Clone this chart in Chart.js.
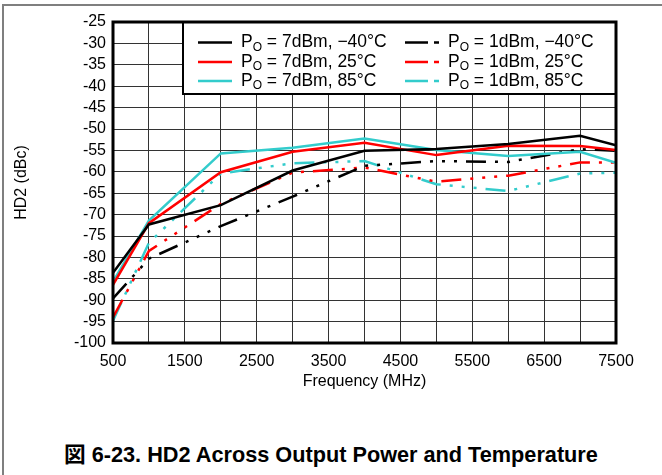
<!DOCTYPE html>
<html>
<head>
<meta charset="utf-8">
<script src="https://cdn.jsdelivr.net/npm/chart.js@4.4.1/dist/chart.umd.min.js"></script>
<style>
  html, body { margin: 0; padding: 0; background: #fff; }
  .figure { position: relative; width: 662px; height: 475px; overflow: hidden; }
  .frame {
    position: absolute; left: 2px; top: 4px; width: 700px; height: 500px;
    border-top: 2px solid #7f7f7f; border-left: 2px solid #7f7f7f;
  }
  .chart-box { position: absolute; left: 0; top: 0; width: 662px; height: 400px; }
  .caption {
    position: absolute; left: 64px; top: 437px; white-space: nowrap;
    font: bold 21.7px "Liberation Sans", Arial, "Noto Sans CJK JP", sans-serif; color: #000;
  }
</style>
</head>
<body>
<div class="figure">
  <div class="frame"></div>
  <div class="chart-box"><canvas id="hd2Chart"></canvas></div>
  <div class="caption">図 6-23. HD2 Across Output Power and Temperature</div>
</div>
<script>
  // frequency points (MHz)
  const frequencies = [500, 1000, 2000, 3000, 4000, 5000, 6000, 7000, 7500];

  // HD2 (dBc)
  const hd2_7dBm_m40 = [-83.6, -72.3, -67.8, -59.7, -55.1, -54.7, -53.5, -51.6, -53.8];
  const hd2_7dBm_25 = [-86.4, -72.0, -60.1, -55.3, -53.2, -56.1, -53.9, -54.0, -54.9];
  const hd2_7dBm_85 = [-85.7, -71.4, -55.7, -54.4, -52.2, -54.9, -56.3, -55.3, -57.9];
  const hd2_1dBm_m40 = [-89.6, -80.3, -72.7, -65.8, -58.6, -57.5, -57.7, -54.7, -55.1];
  const hd2_1dBm_25 = [-94.0, -78.5, -67.5, -60.2, -59.0, -62.3, -60.9, -57.8, -57.8];
  const hd2_1dBm_85 = [-94.8, -76.6, -60.4, -58.0, -57.5, -62.9, -64.5, -60.4, -60.2];

  const seriesNames = ['7dBm, \u221240\u00b0C', '7dBm, 25\u00b0C', '7dBm, 85\u00b0C',
    '1dBm, \u221240\u00b0C', '1dBm, 25\u00b0C', '1dBm, 85\u00b0C'];

  const xTickLabels = [500, 1500, 2500, 3500, 4500, 5500, 6500, 7500];
  const yTickLabels = [-100, -95, -90, -85, -80, -75, -70, -65, -60, -55, -50, -45, -40, -35, -30, -25];

  const BLACK = '#000000';
  const RED = '#ff0000';
  const CYAN = '#33cccc';
  const DASH_DOT = [20, 9, 3, 9, 3, 9, 3, 9];
  const FONT = '"Liberation Sans", Arial, sans-serif';

  const toPoints = (values) => values.map((v, i) => ({ x: frequencies[i], y: v }));

  const makeSet = (name, values, color, dashed) => ({
    label: 'PO = ' + name,
    legendName: name,
    data: toPoints(values),
    borderColor: color,
    backgroundColor: color,
    borderWidth: 2.5,
    borderDash: dashed ? DASH_DOT : [],
    pointRadius: 0,
    tension: 0,
    fill: false,
  });

  const datasets = [
    makeSet(seriesNames[0], hd2_7dBm_m40, BLACK, false),
    makeSet(seriesNames[1], hd2_7dBm_25, RED, false),
    makeSet(seriesNames[2], hd2_7dBm_85, CYAN, false),
    makeSet(seriesNames[3], hd2_1dBm_m40, BLACK, true),
    makeSet(seriesNames[4], hd2_1dBm_25, RED, true),
    makeSet(seriesNames[5], hd2_1dBm_85, CYAN, true),
  ];

  // thick plot frame plus boxed legend with subscript "O"
  const framePlugin = {
    id: 'frameAndLegend',
    afterDraw(chart) {
      const ctx = chart.ctx;
      const area = chart.chartArea;
      ctx.save();

      const boxLeft = 183;
      const boxBottom = 94;
      ctx.fillStyle = '#fff';
      ctx.fillRect(boxLeft, area.top, area.right - boxLeft, boxBottom - area.top);
      ctx.strokeStyle = '#000';
      ctx.lineWidth = 2;
      ctx.strokeRect(boxLeft, area.top, area.right - boxLeft, boxBottom - area.top);
      ctx.lineWidth = 3;
      ctx.strokeRect(area.left, area.top, area.right - area.left, area.bottom - area.top);

      const columns = [{ line: 198, text: 241 }, { line: 405, text: 448 }];
      const rows = [42.5, 62, 81];
      chart.data.datasets.forEach((ds, i) => {
        const col = columns[Math.floor(i / 3)];
        const y = rows[i % 3];
        ctx.strokeStyle = ds.borderColor;
        ctx.lineWidth = 2.5;
        ctx.setLineDash(ds.borderDash.length ? [23, 6, 5, 20] : []);
        ctx.beginPath();
        ctx.moveTo(col.line, y);
        ctx.lineTo(col.line + 34, y);
        ctx.stroke();
        ctx.setLineDash([]);

        ctx.fillStyle = '#000';
        ctx.textBaseline = 'middle';
        ctx.textAlign = 'left';
        let x = col.text;
        ctx.font = '17.5px ' + FONT;
        ctx.fillText('P', x, y);
        x += ctx.measureText('P').width;
        ctx.font = '12px ' + FONT;
        ctx.fillText('O', x, y + 5);
        x += ctx.measureText('O').width;
        ctx.font = '17.5px ' + FONT;
        ctx.fillText(' = ' + ds.legendName, x, y);
      });
      ctx.restore();
    },
  };

  const canvas = document.getElementById('hd2Chart');
  new Chart(canvas, {
    type: 'line',
    data: { datasets },
    options: {
      responsive: true,
      maintainAspectRatio: false,
      animation: false,
      layout: { padding: { top: 22, right: 46, left: 0, bottom: 0 } },
      plugins: { legend: { display: false }, tooltip: { enabled: false } },
      scales: {
        x: {
          type: 'linear',
          min: 500,
          max: 7500,
          afterFit: (scale) => { scale.height = 57; },
          ticks: {
            stepSize: 500,
            autoSkip: false,
            maxRotation: 0,
            padding: 9,
            color: '#000',
            font: { family: FONT, size: 16 },
            callback: (value) => (xTickLabels.includes(value) ? String(value) : ''),
          },
          grid: { color: '#333', lineWidth: 1, drawTicks: false },
          border: { display: false },
          title: {
            display: true,
            text: 'Frequency (MHz)',
            color: '#000',
            font: { family: FONT, size: 16, lineHeight: 1.2 },
            padding: { top: 0, bottom: 9 },
          },
        },
        y: {
          min: -100,
          max: -25,
          afterFit: (scale) => { scale.width = 113; },
          ticks: {
            stepSize: 5,
            autoSkip: false,
            padding: 7,
            color: '#000',
            font: { family: FONT, size: 16 },
            callback: (value) => (yTickLabels.includes(value) ? String(value) : ''),
          },
          grid: { color: '#333', lineWidth: 1, drawTicks: false },
          border: { display: false },
          title: {
            display: true,
            text: 'HD2 (dBc)',
            color: '#000',
            font: { family: FONT, size: 16, lineHeight: 1.2 },
            padding: { top: 12, bottom: 0 },
          },
        },
      },
    },
    plugins: [framePlugin],
  });
</script>
</body>
</html>
